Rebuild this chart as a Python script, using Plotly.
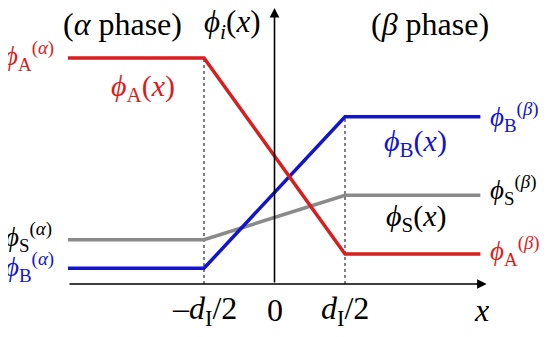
import plotly.graph_objects as go

# x in units of d_I/2, y as volume fraction
x_pts = [-2.93, -1, 1, 2.92]
phi_A = [0.79, 0.79, 0.105, 0.105]
phi_B = [0.055, 0.055, 0.585, 0.585]
phi_S = [0.155, 0.155, 0.31, 0.31]

tick_vals = [-1, 0, 1]
tick_text = ['–<i>d</i><sub>I</sub>/2', '0', '<i>d</i><sub>I</sub>/2']

RED = '#d81e1e'
BLUE = '#1414c8'
GRAY = '#8a8a8a'
SERIF = 'Liberation Serif'

W, H = 550, 337
OFF = 8  # page body margin shifts the figure

def px(x, y):
    return (x - OFF) / W, 1 - (y - OFF) / H

X0, UX = 274.5 - OFF, 70.5   # pixel of x=0 and pixels per d_I/2
Y0, UY = 284 - OFF, 286      # pixel of y=0 and pixels per unit

fig = go.Figure()

# dashed guides at the interface edges
fig.add_trace(go.Scatter(x=[-1, -1], y=[0, phi_A[1]], mode='lines',
                         line=dict(color='black', width=1, dash='dot'), showlegend=False))
fig.add_trace(go.Scatter(x=[1, 1], y=[0, phi_B[2]], mode='lines',
                         line=dict(color='black', width=1, dash='dot'), showlegend=False))

fig.add_trace(go.Scatter(x=x_pts, y=phi_S, mode='lines', line=dict(color=GRAY, width=3.5), showlegend=False))
fig.add_trace(go.Scatter(x=x_pts, y=phi_B, mode='lines', line=dict(color=BLUE, width=3.5), showlegend=False))
fig.add_trace(go.Scatter(x=x_pts, y=phi_A, mode='lines', line=dict(color=RED, width=3.5), showlegend=False))

anns = []
# axes arrows
anns.append(dict(x=3.01, y=0, ax=-2.93, ay=0, xref='x', yref='y', axref='x', ayref='y',
                 text='', showarrow=True, arrowhead=2, arrowsize=1.2, arrowwidth=1.6, arrowcolor='black'))
anns.append(dict(x=0, y=0.965, ax=0, ay=0, xref='x', yref='y', axref='x', ayref='y',
                 text='', showarrow=True, arrowhead=2, arrowsize=1.2, arrowwidth=1.6, arrowcolor='black'))

# tick labels under the x axis
for tv, tt in zip(tick_vals, tick_text):
    anns.append(dict(x=tv, y=px(0, 310)[1], xref='x', yref='paper', text=tt, showarrow=False,
                     font=dict(family=SERIF, size=32, color='black'), xanchor='center', yanchor='middle'))

P = 'ϕ'
labels = [
    (122, 24, '(<i>α</i> phase)', 'black', 32, 'center'),
    (232, 24, '<i>' + P + '<sub>i</sub></i>(<i>x</i>)', 'black', 31, 'center'),
    (430, 24, '(<i>β</i> phase)', 'black', 32, 'center'),
    (2, 56, '<i>' + P + '</i><sub>A</sub><sup>(<i>α</i>)</sup>', RED, 27, 'left'),
    (143, 88, '<i>' + P + '</i><sub>A</sub>(<i>x</i>)', RED, 30, 'center'),
    (488, 117, '<i>' + P + '</i><sub>B</sub><sup>(<i>β</i>)</sup>', BLUE, 27, 'left'),
    (415, 143, '<i>' + P + '</i><sub>B</sub>(<i>x</i>)', BLUE, 30, 'center'),
    (488, 190, '<i>' + P + '</i><sub>S</sub><sup>(<i>β</i>)</sup>', 'black', 27, 'left'),
    (416, 218, '<i>' + P + '</i><sub>S</sub>(<i>x</i>)', 'black', 30, 'center'),
    (3, 237, '<i>' + P + '</i><sub>S</sub><sup>(<i>α</i>)</sup>', 'black', 27, 'left'),
    (3, 267, '<i>' + P + '</i><sub>B</sub><sup>(<i>α</i>)</sup>', BLUE, 27, 'left'),
    (488, 251, '<i>' + P + '</i><sub>A</sub><sup>(<i>β</i>)</sup>', RED, 27, 'left'),
    (481, 310, '<i>x</i>', 'black', 32, 'center'),
]
for (lx, ly, t, c, s, anc) in labels:
    xx, yy = px(lx, ly)
    anns.append(dict(x=xx, y=yy, xref='paper', yref='paper', text=t, showarrow=False,
                     font=dict(family=SERIF, size=s, color=c), xanchor=anc, yanchor='middle'))

fig.update_layout(
    width=W, height=H,
    margin=dict(l=0, r=0, t=0, b=0),
    paper_bgcolor='white', plot_bgcolor='white',
    xaxis=dict(range=[-X0 / UX, (W - X0) / UX], showgrid=False, zeroline=False, showline=False,
               showticklabels=False, automargin=False),
    yaxis=dict(range=[(Y0 - H) / UY, Y0 / UY], showgrid=False, zeroline=False,
               showline=False, showticklabels=False, automargin=False),
    annotations=anns,
)

fig.write_html('out.html')
